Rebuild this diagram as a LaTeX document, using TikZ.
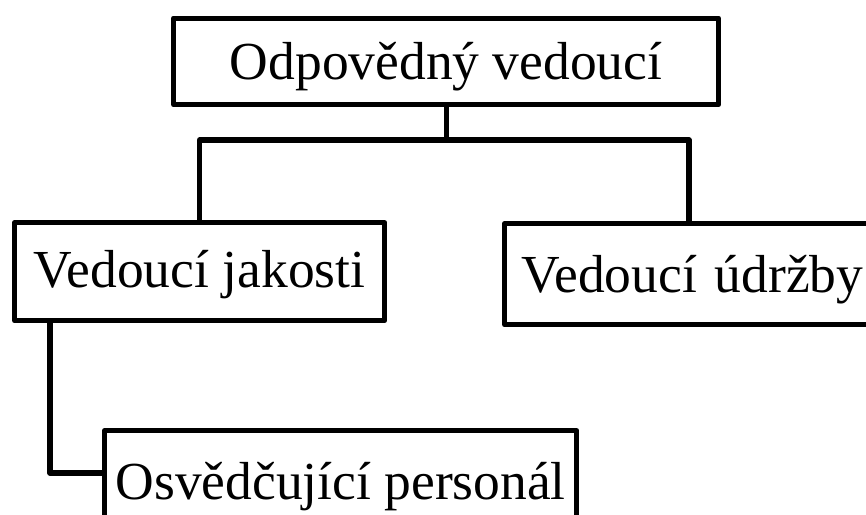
\documentclass[tikz,border=0pt]{standalone}
\usepackage{fontspec}
\setmainfont{Liberation Serif}
\begin{document}
\begin{tikzpicture}[x=1pt,y=-1pt,
  box/.style={draw, line width=5.3pt, line join=round, anchor=north west,
    inner ysep=0pt, inner xsep=0pt, font=\fontsize{53.5pt}{60pt}\selectfont},
  link/.style={draw, line width=5.3pt, line join=round}]
\useasboundingbox (0,0) rectangle (866,514);
\clip (0,0) rectangle (866,514);
\node[box, minimum width=545pt, text height=61.5pt, text depth=25pt] (top) at (171,15.5) {Odpovědný vedoucí};
\node[box, minimum width=370pt, text height=65pt, text depth=33pt] (jak) at (12,220) {Vedoucí jakosti};
\node[box, inner xsep=17pt, text width=386pt, align=left, text height=69pt, text depth=32pt] (udr) at (502,221) {Vedoucí údržby};
\node[box, minimum width=472pt, text height=69pt, text depth=40pt] (osv) at (102,428) {Osvědčující personál};
\coordinate (r) at (689,140);
\coordinate (q) at (50,473);
\path[link] (top.south) -- (top.south |- r);
\path[link] (jak.north) |- (r) -- (r |- udr.north);
\path[link] (jak.south -| q) -- (q) -- (q -| osv.west);
\end{tikzpicture}
\end{document}
